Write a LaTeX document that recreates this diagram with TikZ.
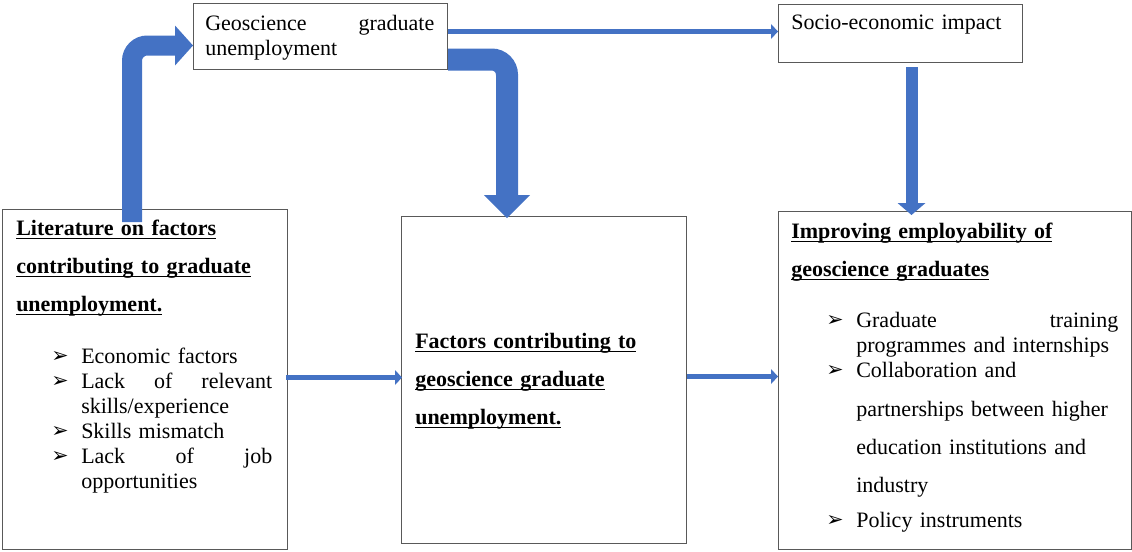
\documentclass[tikz,border=0pt]{standalone}
\usepackage{fontspec}
\setmainfont{Liberation Serif}
\newfontfamily\symfont{DejaVu Sans}
\usetikzlibrary{arrows.meta}

\definecolor{arrowblue}{HTML}{4472C4}
\definecolor{boxline}{HTML}{595959}

% bold underlined heading line
\newlength\hulw
\newcommand\headul[1]{\leavevmode\settowidth\hulw{\bfseries #1}\rlap{\rule[-3pt]{\hulw}{1pt}}{\bfseries #1}}
% bullet and continuation indent
\newcommand\bitem{\leavevmode\hspace*{26.25pt}\makebox[22.5pt][l]{\raisebox{0.5pt}{\symfont\fontsize{15.5}{15.5}\selectfont ➢}}}
\newcommand\bcont{\leavevmode\hspace*{48.75pt}}

\tikzset{
  box/.style={draw=boxline, line width=0.75pt, anchor=north west, inner sep=0pt},
  boxtext/.style={anchor=base west, inner sep=0pt, text width=#1,
    font=\fontsize{16.5}{18.75}\selectfont},
  fatarrow/.style={draw=arrowblue, line width=#1, rounded corners=11.5pt},
  thinarrow/.style={draw=arrowblue, line width=4pt,
    -{Triangle[length=5.25pt,width=11.25pt,line width=0pt]}},
}

\begin{document}
\begin{tikzpicture}[x=0.75pt,y=-0.75pt]
\useasboundingbox (0,0) rectangle (1132,551);

% boxes
\node[box, minimum width=190.5pt, minimum height=49.5pt] (top) at (193,3) {};
\node[box, minimum width=183pt, minimum height=43.5pt] (socio) at (778,4) {};
\node[box, minimum width=213.75pt, minimum height=255pt] (lit) at (2,209) {};
\node[box, minimum width=213.75pt, minimum height=245.25pt] (mid) at (401,216) {};
\node[box, minimum width=264.75pt, minimum height=253.5pt] (impr) at (778,211) {};

% texts
\node[boxtext=192pt] (toptext) at ([shift={(12,27)}]top.north west)
  {\makebox[171.75pt]{Geoscience\hfill graduate}\\unemployment};
\node[boxtext=180pt] (sociotext) at ([shift={(13,25)}]socio.north west)
  {Socio-economic impact};
\node[boxtext=200pt] (littext) at ([shift={(14,26)}]lit.north west) {%
  \headul{Literature on factors}\\[9.75pt]
  \headul{contributing to graduate}\\[9.75pt]
  \headul{unemployment.}\\[20.25pt]
  \bitem Economic factors\\
  \bitem\makebox[143.25pt]{Lack\hfill of\hfill relevant}\\
  \bcont skills/experience\\
  \bitem Skills mismatch\\
  \bitem\makebox[143.25pt]{Lack\hfill of\hfill job}\\
  \bcont opportunities};
\node[boxtext=200pt] (midtext) at ([shift={(14,132)}]mid.north west) {%
  \headul{Factors contributing to}\\[9.75pt]
  \headul{geoscience graduate}\\[9.75pt]
  \headul{unemployment.}};
\node[boxtext=260pt] (imptext) at ([shift={(13,27)}]impr.north west) {%
  \headul{Improving employability of}\\[9.75pt]
  \headul{geoscience graduates}\\[19.5pt]
  \bitem\makebox[196.5pt]{Graduate\hfill training}\\
  \bcont programmes and internships\\
  \bitem Collaboration and\\[10.5pt]
  \bcont partnerships between higher\\[9.75pt]
  \bcont education institutions and\\[9.75pt]
  \bcont industry\\[7.5pt]
  \bitem Policy instruments};

% block arrows
\draw[fatarrow=15pt, -{Triangle[length=13.5pt,width=30pt,line width=0pt]}]
  ([shift={(130,13)}]lit.north west) |- ([shift={(0,9)}]top.west);
\draw[fatarrow=16.5pt, -{Triangle[length=17.25pt,width=34.5pt,line width=0pt]}]
  ([shift={(0,23)}]top.east) -| ([shift={(-37,2)}]mid.north);
\draw[fatarrow=9pt, -{Triangle[length=9pt,width=21pt,line width=0pt]}]
  ([shift={(11,4)}]socio.south) -- ([shift={(-43.5,4)}]impr.north);

% thin arrows
\draw[thinarrow] ([shift={(0,-5)}]top.east) -- ([shift={(0,-2)}]socio.west);
\draw[thinarrow] ([shift={(-2,-2)}]lit.east) -- ([shift={(1,-2.5)}]mid.west);
\draw[thinarrow] ([shift={(0,-3.5)}]mid.east) -- ([shift={(0,-4)}]impr.west);
\end{tikzpicture}
\end{document}
